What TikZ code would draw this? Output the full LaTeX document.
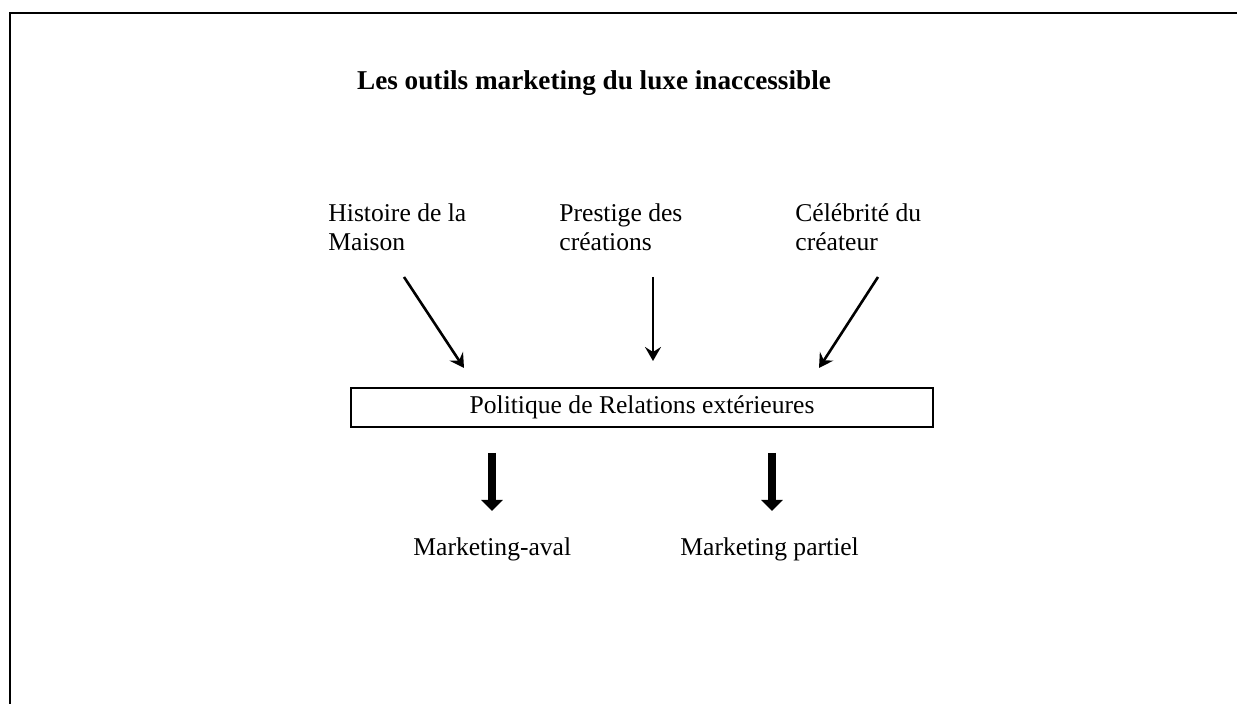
\documentclass[tikz,border=0pt]{standalone}
\usepackage{fontspec}
\setmainfont{Liberation Serif}
\usetikzlibrary{arrows.meta}
\begin{document}
\begin{tikzpicture}[x=0.5pt,y=-0.5pt,
  label/.style={inner sep=0pt,font=\fontsize{12.8pt}{14.5pt}\selectfont,align=left},
  frameline/.style={line width=1pt},
  thinarrow/.style={line width=1.3pt,-{Stealth[length=7pt,width=8pt,inset=2.5pt]}},
  thickarrow/.style={line width=3.6pt,-{Triangle[length=5.5pt,width=10.5pt]}},
  boxstyle/.style={draw,line width=0.9pt,minimum width=291pt,minimum height=19.5pt,inner sep=0pt,font=\fontsize{12.8pt}{14.5pt}\selectfont}]
\useasboundingbox (0,0) rectangle (1237,704);
% open frame: top and left edges
\draw[frameline] (10,704) -- (10,13) -- (1237,13);
% title
\node[inner sep=0pt,font=\fontsize{13.6pt}{16pt}\selectfont\bfseries,anchor=base] (title) at (594,90) {Les outils marketing du luxe inaccessible};
% sources, anchored on the baseline of their first line
\node[label,anchor=base west] (hist) at (328,251) {Histoire de la\\Maison};
\node[label,anchor=base west] (prest) at (559,251) {Prestige des\\créations};
\node[label,anchor=base west] (celeb) at (795,251) {Célébrité du\\créateur};
% central box
\node[boxstyle] (pol) at (642,407.5) {Politique de Relations extérieures};
% outcomes
\node[label,anchor=base west] (aval) at (413,556) {Marketing-aval};
\node[label,anchor=base west] (part) at (680,556) {Marketing partiel};
% arrow end points
\coordinate (h1) at (404,277); \coordinate (h2) at (464,368);
\coordinate (p1) at (653,277); \coordinate (p2) at (653,361);
\coordinate (c1) at (878,277); \coordinate (c2) at (819,368);
\coordinate (a1) at (492,453); \coordinate (a2) at (492,511);
\coordinate (b1) at (772,453); \coordinate (b2) at (772,511);
\draw[thinarrow] (h1) -- (h2);
\draw[thinarrow] (p1) -- (p2);
\draw[thinarrow] (c1) -- (c2);
\draw[thickarrow] (a1) -- (a2);
\draw[thickarrow] (b1) -- (b2);
\end{tikzpicture}
\end{document}
